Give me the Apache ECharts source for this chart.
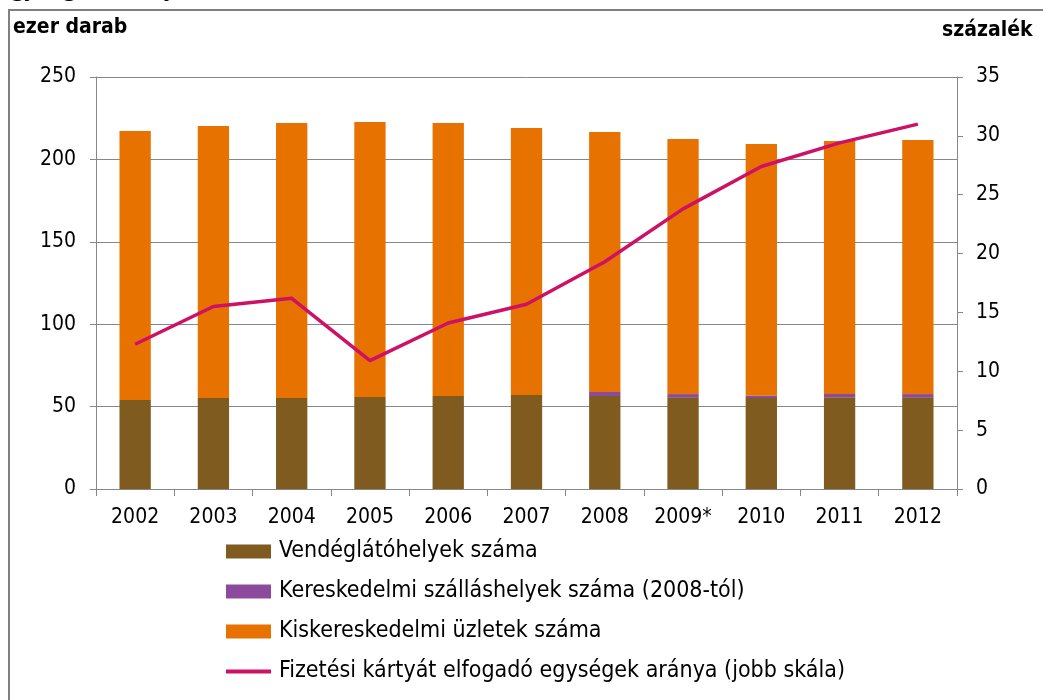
<!DOCTYPE html>
<html>
<head>
<meta charset="utf-8">
<script src="https://cdn.jsdelivr.net/npm/echarts@6/dist/echarts.min.js"></script>
<style>html,body{margin:0;padding:0;background:#fff;}#c{width:1043px;height:700px;}</style>
</head>
<body>
<div id="c"></div>
<script>
var years = ['2002','2003','2004','2005','2006','2007','2008','2009*','2010','2011','2012'];
var vendeglato = [54.0, 55.2, 55.2, 55.8, 56.4, 57.0, 56.4, 55.6, 55.2, 55.6, 55.6];
var szallashely = [null, null, null, null, null, null, 2.5, 2.0, 1.4, 2.0, 2.0];
var kisker = [163.2, 165.1, 166.9, 166.9, 165.7, 162.1, 157.7, 154.8, 152.7, 153.6, 154.2];
var kartyaArany = [12.3, 15.5, 16.2, 10.9, 14.1, 15.7, 19.3, 23.8, 27.4, 29.4, 31.0];
var leftTicks = [0, 50, 100, 150, 200, 250];
var rightTicks = [0, 5, 10, 15, 20, 25, 30, 35];

var FONT = "'DejaVu Sans Condensed', 'DejaVu Sans', sans-serif";
var chart = echarts.init(document.getElementById('c'), null, {renderer: 'canvas'});
var axisGray = '#878787';
var lineColor = '#CD1164';
chart.setOption({
  animation: false,
  backgroundColor: '#ffffff',
  textStyle: {fontFamily: FONT},
  grid: {left: 96, right: 86, top: 77, bottom: 211, containLabel: false},
  legend: {
    orient: 'vertical',
    left: 226,
    top: 540,
    padding: 0,
    itemWidth: 45,
    itemHeight: 14,
    itemGap: 17,
    textStyle: {fontFamily: FONT, fontSize: 23, color: '#000', padding: [0, 0, 0, 3]},
    data: [
      {name: 'Vendéglátóhelyek száma', icon: 'rect'},
      {name: 'Kereskedelmi szálláshelyek száma (2008-tól)', icon: 'rect'},
      {name: 'Kiskereskedelmi üzletek száma', icon: 'rect'},
      {name: 'Fizetési kártyát elfogadó egységek aránya (jobb skála)', icon: 'path://M0,0H45V4H0Z', itemStyle: {color: lineColor}}
    ]
  },
  xAxis: {
    type: 'category',
    data: years,
    axisLine: {lineStyle: {color: axisGray, width: 1}},
    axisTick: {show: true, length: 7, alignWithLabel: false, lineStyle: {color: axisGray}},
    axisLabel: {color: '#000', fontSize: 21, margin: 18, fontFamily: FONT}
  },
  yAxis: [
    {
      type: 'value', min: leftTicks[0], max: leftTicks[leftTicks.length-1], interval: 50,
      axisLine: {show: true, lineStyle: {color: axisGray}},
      axisTick: {show: true, length: 6, lineStyle: {color: axisGray}},
      splitLine: {show: true, lineStyle: {color: axisGray, width: 1}},
      axisLabel: {color: '#000', fontSize: 21, margin: 20, fontFamily: FONT}
    },
    {
      type: 'value', min: rightTicks[0], max: rightTicks[rightTicks.length-1], interval: 5,
      position: 'right',
      axisLine: {show: true, lineStyle: {color: axisGray}},
      axisTick: {show: true, length: 6, lineStyle: {color: axisGray}},
      splitLine: {show: false},
      axisLabel: {color: '#000', fontSize: 21, margin: 19, fontFamily: FONT}
    }
  ],
  series: [
    {name: 'Vendéglátóhelyek száma', type: 'bar', stack: 'a', data: vendeglato,
     barCategoryGap: '60%', itemStyle: {color: '#7F5B1F'}},
    {name: 'Kereskedelmi szálláshelyek száma (2008-tól)', type: 'bar', stack: 'a', data: szallashely,
     itemStyle: {color: '#8B4A9B'}},
    {name: 'Kiskereskedelmi üzletek száma', type: 'bar', stack: 'a', data: kisker,
     itemStyle: {color: '#E77200'}},
    {name: 'Fizetési kártyát elfogadó egységek aránya (jobb skála)', type: 'line', yAxisIndex: 1,
     data: kartyaArany, symbol: 'none', smooth: false,
     lineStyle: {color: lineColor, width: 3.5}, itemStyle: {color: lineColor}}
  ],
  graphic: [
    {type: 'rect', shape: {x: 9, y: 10, width: 1100, height: 800}, style: {fill: 'none', stroke: '#808080', lineWidth: 2}, silent: true},
    {type: 'text', left: 13, top: 17, style: {text: 'ezer darab', font: "bold 21px " + FONT, fill: '#000'}},
    {type: 'text', left: 942, top: 20, style: {text: 'százalék', font: "bold 21px " + FONT, fill: '#000'}},
    {type: 'text', x: 0, y: 2, style: {text: 'egységek aránya', font: "italic 29px 'Liberation Serif', serif", fill: '#000', textVerticalAlign: 'bottom'}}
  ]
});
</script>
</body>
</html>
